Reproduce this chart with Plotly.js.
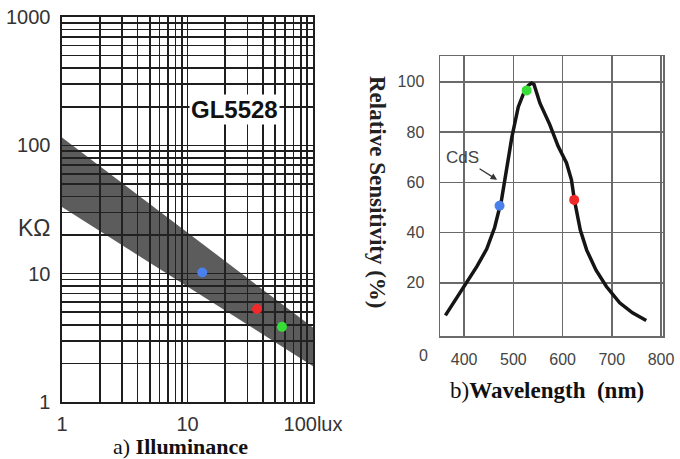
<!DOCTYPE html>
<html>
<head>
<meta charset="utf-8">
<script src="https://cdn.plot.ly/plotly-3.0.1.min.js"></script>
<style>html,body{margin:0;padding:0;background:#fff}#chart{width:680px;height:459px}</style>
</head>
<body>
<div id="chart"></div>
<script>
// ---- Left panel: GL5528 resistance vs illuminance (log-log) ----
const bandLux = [1, 100, 100, 1];
const bandKohm = [115, 3.8, 1.9, 33];
const luxTickVals = [1,2,3,4,5,6,7,8,9,10,20,30,40,50,60,70,80,90,100];
const luxTickText = ['1','','','','','','','','','10','','','','','','','','','100lux'];
const kohmTickVals = [1,2,3,4,5,6,7,8,9,10,20,30,40,50,60,70,80,90,100,200,300,400,500,600,700,800,900,1000];
const kohmTickText = ['1','','','','','','','','','10','','','','','','','','','100','','','','','','','','','1000'];
const dotLux = [13.1, 35.8, 56.6];
const dotKohm = [10.2, 5.3, 3.85];
const dotColors = ['#4a80ec', '#f02a2a', '#38de38'];

// ---- Right panel: relative spectral sensitivity of CdS ----
const wavelength = [362, 380, 402, 426, 446, 462, 476, 486, 497, 510, 520, 530, 537, 542, 554, 574, 591, 608, 618, 624, 636, 649, 668, 689, 716, 742, 770];
const sensitivity = [7, 12.5, 19.5, 26.5, 33.5, 42, 53, 65, 78, 90, 95, 98.5, 99.5, 99, 91.5, 83, 74.3, 67.7, 61, 53, 41, 33, 25, 18.5, 12, 8, 5];
const wlTickVals = [400, 500, 600, 700, 800];
const sensTickVals = [20, 40, 60, 80, 100];
const specDotWl = [472, 527, 623.6];
const specDotVal = [50.7, 96.6, 53];
const specDotColors = ['#4a80ec', '#38de38', '#f02a2a'];

const W = 680, H = 459;
const fx = px => px / W;
const fy = py => 1 - py / H;

const traces = [
  {x: bandLux, y: bandKohm, xaxis: 'x', yaxis: 'y', type: 'scatter', mode: 'lines',
   fill: 'toself', fillcolor: 'rgba(35,35,35,0.74)', line: {width: 0}, hoverinfo: 'skip'},
  {x: dotLux, y: dotKohm, xaxis: 'x', yaxis: 'y', type: 'scatter', mode: 'markers',
   marker: {size: 10, color: dotColors}, hoverinfo: 'skip'},
  {x: wavelength, y: sensitivity, xaxis: 'x2', yaxis: 'y2', type: 'scatter', mode: 'lines',
   line: {color: '#151515', width: 3.5}, hoverinfo: 'skip'},
  {x: specDotWl, y: specDotVal, xaxis: 'x2', yaxis: 'y2', type: 'scatter', mode: 'markers',
   marker: {size: 10, color: specDotColors}, hoverinfo: 'skip'}
];

const sans = 'Liberation Sans, Arial, sans-serif';
const serif = 'Liberation Serif, Times New Roman, serif';

const layout = {
  width: W, height: H,
  margin: {l: 0, r: 0, t: 0, b: 0},
  paper_bgcolor: '#fff', plot_bgcolor: '#fff',
  showlegend: false,
  xaxis: {
    type: 'log', range: [0, 2], domain: [fx(62), fx(313)], anchor: 'y',
    tickvals: luxTickVals, ticktext: luxTickText, ticks: '',
    showgrid: true, gridcolor: '#1e1e1e', gridwidth: 1.6,
    showline: true, linecolor: '#1e1e1e', linewidth: 1.6, mirror: true,
    zeroline: false, tickfont: {family: sans, size: 20, color: '#333'}, ticklabelstandoff: 3
  },
  yaxis: {
    type: 'log', range: [0, 3], domain: [fy(402), fy(17)], anchor: 'x',
    tickvals: kohmTickVals, ticktext: kohmTickText, ticks: '',
    showgrid: true, gridcolor: '#1e1e1e', gridwidth: 1.6,
    showline: true, linecolor: '#1e1e1e', linewidth: 1.6, mirror: true,
    zeroline: false, tickfont: {family: sans, size: 20, color: '#333'}, ticklabelstandoff: 6
  },
  xaxis2: {
    range: [351, 804], domain: [fx(440), fx(663)], anchor: 'y2',
    tickvals: wlTickVals, ticks: '',
    showgrid: true, gridcolor: '#6a6a6a', gridwidth: 1.5,
    showline: true, linecolor: '#6a6a6a', linewidth: 1.5, mirror: true,
    zeroline: false, tickfont: {family: sans, size: 16, color: '#444'}, ticklabelstandoff: 8
  },
  yaxis2: {
    range: [-1.2, 110.3], domain: [fy(336), fy(56)], anchor: 'x2',
    tickvals: sensTickVals, ticks: '',
    showgrid: true, gridcolor: '#6a6a6a', gridwidth: 1.5,
    showline: true, linecolor: '#6a6a6a', linewidth: 1.5, mirror: true,
    zeroline: false, tickfont: {family: sans, size: 16, color: '#444'}, ticklabelstandoff: 11
  },
  annotations: [
    {xref: 'paper', yref: 'paper', x: fx(34), y: fy(228), xanchor: 'center', yanchor: 'middle',
     text: 'KΩ', showarrow: false, font: {family: sans, size: 23, color: '#333'}},
    {xref: 'x', yref: 'y', x: 1.378, y: 2.28, xanchor: 'center', yanchor: 'middle',
     text: '<b>GL5528</b>', showarrow: false,
     bgcolor: '#fff', borderpad: 1, font: {family: sans, size: 24, color: '#111'}},
    {xref: 'paper', yref: 'paper', x: fx(180), y: fy(446), xanchor: 'center', yanchor: 'middle',
     text: 'a) <b>Illuminance</b>', showarrow: false, font: {family: serif, size: 22, color: '#111'}},
    {xref: 'paper', yref: 'paper', x: fx(547), y: fy(390), xanchor: 'center', yanchor: 'middle',
     text: 'b)<b>Wavelength  (nm)</b>', showarrow: false, font: {family: serif, size: 23, color: '#111'}},
    {xref: 'paper', yref: 'paper', x: fx(378), y: fy(192), xanchor: 'center', yanchor: 'middle',
     text: '<b>Relative Sensitivity (%)</b>', showarrow: false,
     textangle: 90, font: {family: serif, size: 23, color: '#222'}},
    {xref: 'paper', yref: 'paper', x: fx(423), y: fy(355), xanchor: 'center', yanchor: 'middle',
     text: '0', showarrow: false, font: {family: sans, size: 16, color: '#444'}},
    {xref: 'x2', yref: 'y2', x: 467, y: 61, text: 'CdS', showarrow: true, arrowhead: 2, arrowsize: 1,
     arrowwidth: 1.3, arrowcolor: '#333', ax: -35, ay: -22,
     font: {family: sans, size: 17, color: '#444'}}
  ]
};

Plotly.newPlot('chart', traces, layout, {displayModeBar: false, staticPlot: true});
</script>
</body>
</html>
